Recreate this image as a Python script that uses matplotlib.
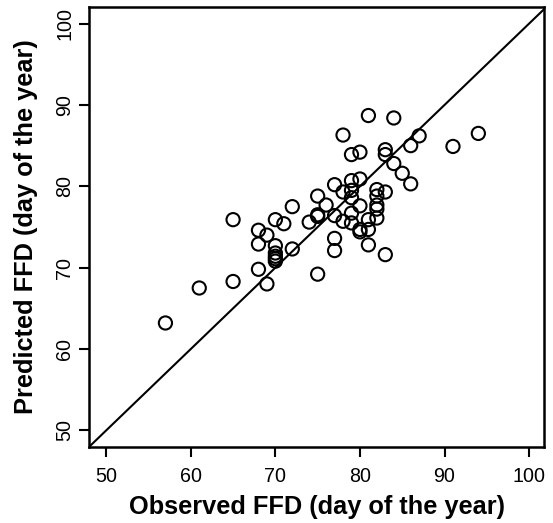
import matplotlib
matplotlib.use("Agg")
import matplotlib.pyplot as plt

# observed vs predicted first flowering date (day of year)
observed = [57, 61, 65, 65, 68, 68, 68, 69, 69,
            70, 70, 70, 70, 70, 70, 71, 72, 72, 74,
            75, 75, 75, 75, 76, 77, 77, 77, 77,
            78, 78, 78, 79, 79, 79, 79, 79, 79,
            80, 80, 80, 80, 80, 81, 81, 81, 81,
            82, 82, 82, 82, 82, 83, 83, 83, 83,
            84, 84, 85, 86, 86, 87, 91, 94]
predicted = [63.2, 67.5, 75.9, 68.3, 74.6, 72.9, 69.8, 74.0, 68.0,
             75.9, 72.7, 71.8, 71.4, 71.1, 70.8, 75.4, 77.5, 72.3, 75.6,
             78.8, 76.3, 76.5, 69.2, 77.7, 80.2, 76.4, 73.6, 72.1,
             86.3, 79.3, 75.7, 83.9, 80.7, 79.5, 78.6, 76.7, 75.5,
             84.2, 80.9, 77.6, 74.7, 74.4, 88.7, 75.9, 74.7, 72.8,
             79.6, 78.8, 77.7, 77.2, 76.1, 84.5, 83.9, 79.3, 71.6,
             88.4, 82.8, 81.6, 85.0, 80.3, 86.2, 84.9, 86.5]
ticks = [50, 60, 70, 80, 90, 100]

plt.rcParams['font.family'] = ['Liberation Sans', 'DejaVu Sans']

fig = plt.figure(figsize=(5.53, 5.23), dpi=100)
ax = fig.add_axes([0.1615, 0.146, 0.8228, 0.840])

ax.plot([48, 102], [48, 102], color="black", lw=1.5)
ax.scatter(observed, predicted, s=90, facecolors="none",
           edgecolors="black", linewidths=1.5, zorder=3)

ax.set_xlim(48, 101.8)
ax.set_ylim(48, 102)
ax.set_xticks(ticks)
ax.set_yticks(ticks)
ax.tick_params(direction="out", length=7, width=1.5, labelsize=14.2)
ax.tick_params(axis="x", pad=8)
ax.tick_params(axis="y", pad=4)
for lab in ax.get_yticklabels():
    lab.set_rotation(90)
    lab.set_va("center")
for sp in ax.spines.values():
    sp.set_linewidth(1.8)

ax.set_xlabel("Observed FFD (day of the year)", fontsize=18.3,
              fontweight="bold", labelpad=6)
ax.set_ylabel("Predicted FFD (day of the year)", fontsize=18.3,
              fontweight="bold", labelpad=12)

fig.savefig("out.png", dpi=100)
